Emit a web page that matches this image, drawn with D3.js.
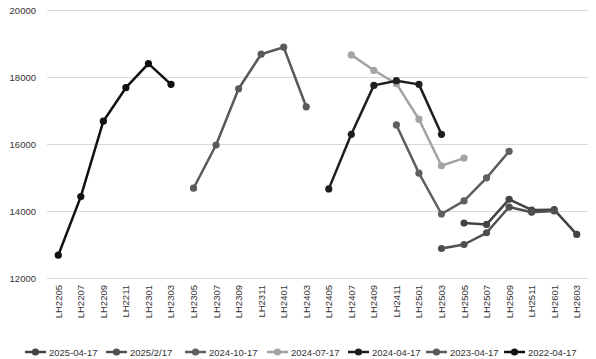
<!DOCTYPE html>
<html><head><meta charset="utf-8">
<script src="https://cdn.jsdelivr.net/npm/d3@7"></script>
<style>body{margin:0;background:#fff;font-family:"Liberation Sans",Arial,sans-serif;}</style>
</head><body><svg id="c" width="596" height="359"></svg>
<script>
const categories = ["LH2205","LH2207","LH2209","LH2211","LH2301","LH2303","LH2305","LH2307","LH2309","LH2311","LH2401","LH2403","LH2405","LH2407","LH2409","LH2411","LH2501","LH2503","LH2505","LH2507","LH2509","LH2511","LH2601","LH2603"];
const seriesNames = ["2025-04-17","2025/2/17","2024-10-17","2024-07-17","2024-04-17","2023-04-17","2022-04-17"];
const seriesStart = ["LH2505","LH2503","LH2411","LH2407","LH2405","LH2305","LH2205"];
const s20250417 = [13640,13600,14350,14030,14040,13300];
const s20250217 = [12880,13000,13350,14120,13960,14000];
const s20241017 = [16570,15130,13910,14300,14990,15780];
const s20240717 = [18660,18200,17800,16740,15350,15580];
const s20240417 = [14660,16290,17750,17890,17780,16290];
const s20230417 = [14680,15970,17650,18680,18890,17110];
const s20220417 = [12680,14430,16680,17680,18400,17780];
const seriesValues = [s20250417,s20250217,s20241017,s20240717,s20240417,s20230417,s20220417];
const seriesColors = ["#434343","#505050","#5f5f5f","#a3a3a3","#1e1e1e","#5a5a5a","#111111"];
const yTicks = [12000,14000,16000,18000,20000];

const svg = d3.select("#c");
const L=47, R=588, T=10, B=278;
const x = d3.scaleBand().domain(categories).range([L,R]);
const y = d3.scaleLinear().domain([12000,20000]).range([B,T]);

svg.append("g").selectAll("line").data(yTicks).join("line")
  .attr("x1",L).attr("x2",R).attr("y1",d=>y(d)).attr("y2",d=>y(d))
  .attr("stroke","#d9d9d9").attr("stroke-width",1).attr("shape-rendering","crispEdges");

svg.append("g").selectAll("text").data(yTicks).join("text")
  .attr("x",36).attr("y",d=>y(d)+3.5).attr("text-anchor","end")
  .attr("font-size","9.5px").attr("fill","#333").text(d=>d);

svg.append("g").selectAll("text").data(categories).join("text")
  .attr("transform",d=>`translate(${x(d)+x.bandwidth()/2+3.5},285) rotate(-90)`)
  .attr("text-anchor","end").attr("font-size","9.5px").attr("fill","#333").text(d=>d);

const line = d3.line().x(d=>x(d.c)+x.bandwidth()/2).y(d=>y(d.v));
seriesNames.forEach((name,i)=>{
  const start = categories.indexOf(seriesStart[i]);
  const pts = seriesValues[i].map((v,j)=>({c:categories[start+j],v}));
  const g = svg.append("g");
  g.append("path").datum(pts).attr("d",line).attr("fill","none")
    .attr("stroke",seriesColors[i]).attr("stroke-width",2.5).attr("stroke-linejoin","round");
  g.selectAll("circle").data(pts).join("circle")
    .attr("cx",d=>x(d.c)+x.bandwidth()/2).attr("cy",d=>y(d.v)).attr("r",3.6)
    .attr("fill",seriesColors[i]);
});

const legendX = [25,106,185,267,348,426,504];
const lg = svg.append("g");
seriesNames.forEach((name,i)=>{
  const gx = legendX[i], gy = 352;
  lg.append("line").attr("x1",gx).attr("x2",gx+21).attr("y1",gy).attr("y2",gy)
    .attr("stroke",seriesColors[i]).attr("stroke-width",2.5);
  lg.append("circle").attr("cx",gx+10.5).attr("cy",gy).attr("r",3.6).attr("fill",seriesColors[i]);
  lg.append("text").attr("x",gx+24).attr("y",gy+3.5).attr("font-size","9.5px").attr("fill","#333").text(name);
});
</script></body></html>
